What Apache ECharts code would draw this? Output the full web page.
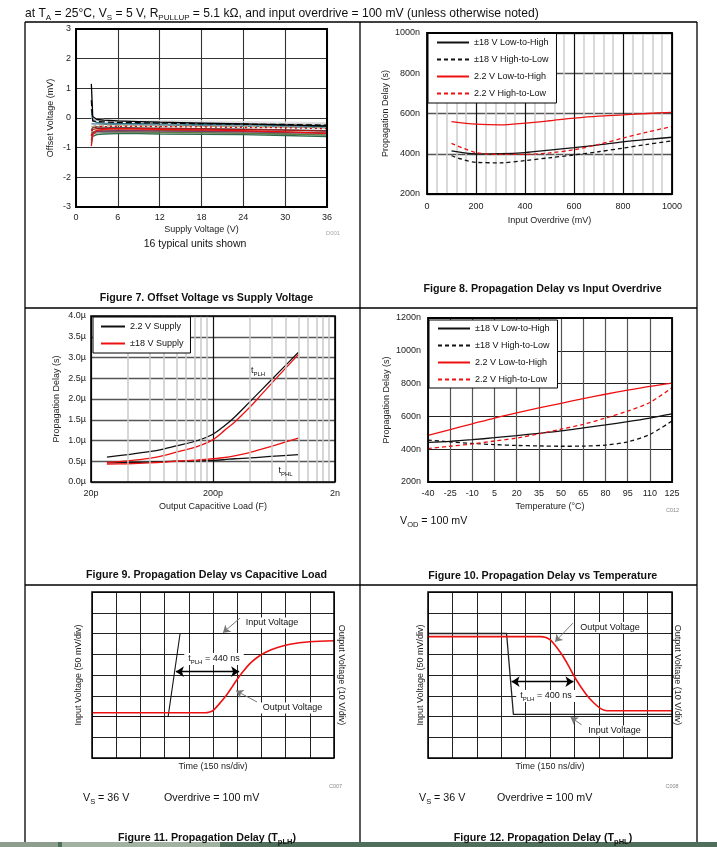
<!DOCTYPE html>
<html><head><meta charset="utf-8">
<script src="https://cdn.jsdelivr.net/npm/echarts/dist/echarts.min.js"></script>
<style>html,body{margin:0;padding:0;background:#fff}#c{width:717px;height:847px}</style>
</head><body><div id="c"></div>
<script>
const FF = '"Liberation Sans", Arial, Helvetica, sans-serif';

// ---------- Figure 7: offset voltage vs supply voltage (16 units) ----------
const supplyV = [2.2, 2.4, 3, 4, 6, 9, 12, 18, 24, 30, 36];
const unit01 = [1.15, 0.05, -0.05, -0.07, -0.1, -0.12, -0.14, -0.17, -0.2, -0.23, -0.27];
const unit02 = [-0.95, -0.55, -0.42, -0.38, -0.36, -0.37, -0.38, -0.4, -0.43, -0.47, -0.52];
const unit03 = [-0.6, -0.35, -0.3, -0.29, -0.28, -0.28, -0.29, -0.3, -0.32, -0.33, -0.36];
const unit04 = [-0.85, -0.62, -0.56, -0.54, -0.53, -0.53, -0.54, -0.55, -0.56, -0.59, -0.63];
const unit05 = [0.3, -0.1, -0.15, -0.17, -0.18, -0.19, -0.2, -0.21, -0.23, -0.26, -0.29];
const unit06 = [-0.7, -0.55, -0.5, -0.49, -0.48, -0.48, -0.49, -0.5, -0.52, -0.54, -0.57];
const unit07 = [0.1, -0.04, -0.07, -0.09, -0.11, -0.12, -0.13, -0.15, -0.17, -0.19, -0.21];
const unit08 = [-0.75, -0.5, -0.45, -0.44, -0.43, -0.43, -0.44, -0.45, -0.47, -0.49, -0.52];
const unit09 = [-0.3, -0.25, -0.24, -0.24, -0.25, -0.26, -0.27, -0.28, -0.29, -0.3, -0.32];
const unit10 = [0.6, -0.1, -0.12, -0.13, -0.15, -0.16, -0.17, -0.19, -0.21, -0.22, -0.24];
const unit11 = [-0.4, -0.32, -0.3, -0.31, -0.32, -0.33, -0.34, -0.36, -0.38, -0.4, -0.43];
const unit12 = [-0.2, -0.2, -0.2, -0.21, -0.22, -0.23, -0.24, -0.26, -0.28, -0.3, -0.33];
const unit13 = [-0.5, -0.45, -0.42, -0.41, -0.4, -0.41, -0.42, -0.43, -0.45, -0.47, -0.5];
const unit14 = [-0.55, -0.48, -0.46, -0.46, -0.46, -0.47, -0.48, -0.49, -0.51, -0.54, -0.58];
const unit15 = [-0.45, -0.38, -0.36, -0.35, -0.35, -0.35, -0.36, -0.37, -0.39, -0.41, -0.44];
const unit16 = [0.0, -0.02, -0.04, -0.05, -0.06, -0.07, -0.08, -0.1, -0.12, -0.14, -0.16];
const fig7Units = [unit16, unit07, unit06, unit12, unit13, unit14, unit11, unit09, unit05, unit08, unit15, unit04, unit03, unit10, unit01, unit02];
const fig7Colors = ['#e4e4e4', '#c8c8c8', '#8a8a8a', '#4f7fa0', '#8b5a2b', '#5f7f3f', '#4a5a5a', '#b9a875', '#2f7080', '#7b3a6a', '#a01818', '#2f6b4a', '#e00000', '#000000', '#000000', '#ee1111'];
const fig7Dash = ['solid', 'solid', 'solid', 'solid', 'solid', 'solid', 'solid', [5, 3], 'solid', 'solid', 'solid', 'solid', [2, 3], [6, 3], 'solid', 'solid'];

// ---------- Figure 8: propagation delay vs input overdrive (ns) ----------
const overdriveMv = [100, 200, 300, 400, 500, 600, 700, 800, 900, 1000];
const od18LH = [414, 399, 400, 406, 418, 430, 444, 459, 471, 482];
const od18HL = [390, 357, 355, 366, 380, 394, 410, 428, 447, 464];
const od22LH = [560, 547, 543, 552, 564, 577, 587, 593, 600, 606];
const od22HL = [452, 406, 397, 397, 404, 420, 446, 478, 508, 535];

// ---------- Figure 9: propagation delay vs capacitive load (us) ----------
const loadPf = [27, 40, 60, 80, 100, 150, 200, 250, 300, 400, 500, 700, 1000];
const load22PLH = [0.60, 0.66, 0.73, 0.80, 0.87, 1.0, 1.15, 1.36, 1.56, 1.93, 2.22, 2.66, 3.12];
const load18PLH = [0.47, 0.51, 0.57, 0.64, 0.72, 0.86, 1.02, 1.25, 1.44, 1.80, 2.11, 2.58, 3.07];
const load18PHL = [0.43, 0.44, 0.46, 0.48, 0.50, 0.53, 0.56, 0.59, 0.63, 0.71, 0.79, 0.92, 1.06];
const load22PHL = [0.46, 0.47, 0.48, 0.49, 0.50, 0.51, 0.52, 0.54, 0.56, 0.58, 0.60, 0.63, 0.66];
const loadMinorPf = [40, 60, 80, 100, 120, 140, 160, 180, 400, 600, 800, 1000, 1200, 1400, 1600, 1800];
const loadTickPf = [20, 200, 2000];

// ---------- Figure 10: propagation delay vs temperature (ns) ----------
const tempC = [-40, -25, -10, 5, 20, 35, 50, 65, 80, 95, 110, 125];
const t18LH = [442, 448, 458, 470, 483, 497, 512, 530, 548, 568, 590, 615];
const t18HL = [455, 445, 435, 428, 423, 420, 418, 419, 425, 445, 490, 572];
const t22LH = [485, 520, 555, 590, 622, 652, 680, 708, 735, 760, 783, 803];
const t22HL = [404, 418, 432, 450, 468, 494, 522, 552, 590, 632, 685, 775];

// ---------- Figure 11: tPLH scope capture ----------
const plhInNs = [0, 472, 546, 1500];
const plhInMv = [-100, -100, 100, 100];
const plhOutNs = [0, 700, 730, 752, 790, 834, 870, 897, 940, 980, 1030, 1083, 1150, 1227, 1350, 1500];
const plhOutV = [1.8, 1.8, 2.2, 3.0, 6.2, 10.4, 14.4, 17.6, 22, 25.6, 28.8, 31.2, 33.2, 34.8, 36, 36.5];

// ---------- Figure 12: tPHL scope capture ----------
const phlInNs = [0, 483, 525, 1500];
const phlInMv = [100, 100, -95, -95];
const phlOutNs = [0, 690, 720, 750, 771, 800, 832, 860, 894, 930, 975, 1020, 1057, 1080, 1100, 1500];
const phlOutV = [38.5, 38.5, 38.2, 37, 35.3, 32.4, 28.8, 25, 20, 15.4, 10.4, 6.5, 4, 3.1, 2.8, 2.8];

const zip = (a, b) => a.map((x, i) => [x, b[i]]);
const logX = pf => Math.log10(pf / 20);

function lab(extra) { return Object.assign({fontSize: 9, color: '#222', fontFamily: FF}, extra || {}); }
function axisBase(o) {
  return Object.assign({
    type: 'value', axisLine: {show: false}, axisTick: {show: false},
    nameLocation: 'middle', nameMoveOverlap: false,
    nameTextStyle: {fontSize: 9, color: '#222', fontFamily: FF}
  }, o);
}
const sl = (c, w) => ({show: true, lineStyle: {color: c, width: w, type: 'solid'}});
const noLab = {show: false};
const plain = v => String(v);

const xAxis = [
  axisBase({gridIndex: 0, min: 0, max: 36, interval: 6, axisLabel: lab({margin: 6, formatter: plain}), splitLine: sl('#333', 1.1), name: 'Supply Voltage (V)', nameGap: 18}),
  axisBase({gridIndex: 1, min: 0, max: 1000, interval: 200, axisLabel: lab({margin: 8, formatter: plain}), splitLine: sl('#111', 1.2),
    minorTick: {show: true, splitNumber: 5, length: 0, lineStyle: {color: 'transparent'}},
    minorSplitLine: {show: true, lineStyle: {color: '#cdcdcd', width: 1.5}},
    name: 'Input Overdrive (mV)', nameGap: 22}),
  axisBase({gridIndex: 2, min: 0, max: 2, interval: 1,
    axisLabel: lab({margin: 7, formatter: v => { const pf = loadTickPf[Math.round(v)]; return pf >= 1000 ? (pf / 1000) + 'n' : pf + 'p'; }}),
    splitLine: sl('#111', 1.2), name: 'Output Capacitive Load (F)', nameGap: 20}),
  axisBase({gridIndex: 3, min: 0, max: 165, interval: 15, axisLabel: lab({margin: 7, formatter: v => String(v - 40)}),
    splitLine: sl('#555', 1.2), name: 'Temperature (°C)', nameGap: 20}),
  axisBase({gridIndex: 4, min: 0, max: 1500, interval: 150, axisLabel: noLab, splitLine: sl('#222', 1), name: 'Time (150 ns/div)', nameGap: 4}),
  axisBase({gridIndex: 5, min: 0, max: 1500, interval: 150, axisLabel: noLab, splitLine: sl('#222', 1), name: 'Time (150 ns/div)', nameGap: 4})
];
const yAxis = [
  axisBase({gridIndex: 0, min: -3, max: 3, interval: 1, axisLabel: lab({margin: 5, formatter: plain}), splitLine: sl('#333', 1.1), name: 'Offset Voltage (mV)', nameGap: 21}),
  axisBase({gridIndex: 1, min: 200, max: 1000, interval: 200, axisLabel: lab({margin: 7, formatter: v => v + 'n'}), splitLine: sl('#555', 1.3), name: 'Propagation Delay (s)', nameGap: 37}),
  axisBase({gridIndex: 2, min: 0, max: 4, interval: 0.5, axisLabel: lab({margin: 5, formatter: v => v.toFixed(1) + 'µ'}), splitLine: sl('#555', 1.3), name: 'Propagation Delay (s)', nameGap: 30}),
  axisBase({gridIndex: 3, min: 200, max: 1200, interval: 200, axisLabel: lab({margin: 7, formatter: v => v + 'n'}), splitLine: sl('#222', 1.2), name: 'Propagation Delay (s)', nameGap: 37}),
  axisBase({gridIndex: 4, min: -200, max: 200, interval: 50, axisLabel: noLab, splitLine: sl('#222', 1), name: 'Input Voltage (50 mV/div)', nameGap: 9}),
  axisBase({gridIndex: 4, position: 'right', min: -20, max: 60, axisLabel: noLab, splitLine: {show: false}, name: 'Output Voltage (10 V/div)', nameGap: 3, nameRotate: -90}),
  axisBase({gridIndex: 5, min: -200, max: 200, interval: 50, axisLabel: noLab, splitLine: sl('#222', 1), name: 'Input Voltage (50 mV/div)', nameGap: 3}),
  axisBase({gridIndex: 5, position: 'right', min: -20, max: 60, axisLabel: noLab, splitLine: {show: false}, name: 'Output Voltage (10 V/div)', nameGap: 1, nameRotate: -90})
];

const grids = [
  {left: 76, top: 29, width: 251, height: 178},
  {left: 427, top: 33, width: 245, height: 161},
  {left: 91, top: 316, width: 244, height: 166},
  {left: 428, top: 318, width: 244, height: 164},
  {left: 92, top: 592, width: 242, height: 166},
  {left: 428, top: 592, width: 244, height: 166}
].map(g => Object.assign({containLabel: false, outerBoundsMode: 'none', show: false}, g));

const RED = '#ee1111';
function ln(name, xi, yi, data, color, type, width, extra) {
  return Object.assign({name, type: 'line', xAxisIndex: xi, yAxisIndex: yi, data, symbol: 'none', showSymbol: false,
    lineStyle: {color, width: width || 1.3, type: type || 'solid'}, itemStyle: {color}, z: 3, animation: false, silent: true}, extra || {});
}

const series = [];
fig7Units.forEach((u, i) => series.push(ln('Unit ' + (i + 1), 0, 0, zip(supplyV, u), fig7Colors[i], fig7Dash[i], 1.3)));

const D = [4, 3];
series.push(ln('±18 V Low-to-High', 1, 1, zip(overdriveMv, od18LH), '#111', 'solid', 1.3, {smooth: 0.3}));
series.push(ln('±18 V High-to-Low', 1, 1, zip(overdriveMv, od18HL), '#111', D, 1.3, {smooth: 0.3}));
series.push(ln('2.2 V Low-to-High', 1, 1, zip(overdriveMv, od22LH), RED, 'solid', 1.3, {smooth: 0.3}));
series.push(ln('2.2 V High-to-Low', 1, 1, zip(overdriveMv, od22HL), RED, D, 1.3, {smooth: 0.3}));

series.push({type: 'line', xAxisIndex: 2, yAxisIndex: 2, data: [], z: 1, silent: true, animation: false,
  markLine: {silent: true, animation: false, symbol: ['none', 'none'], label: {show: false},
    lineStyle: {color: '#c8c8c8', width: 1.5, type: 'solid'}, data: loadMinorPf.map(p => ({xAxis: logX(p)}))}});
const lx = loadPf.map(logX);
series.push(ln('2.2 V Supply', 2, 2, zip(lx, load22PLH), '#111', 'solid', 1.3, {smooth: 0.3}));
series.push(ln('2.2 V Supply', 2, 2, zip(lx, load22PHL), '#111', 'solid', 1.3, {smooth: 0.3}));
series.push(ln('±18 V Supply', 2, 2, zip(lx, load18PLH), RED, 'solid', 1.3, {smooth: 0.3}));
series.push(ln('±18 V Supply', 2, 2, zip(lx, load18PHL), RED, 'solid', 1.3, {smooth: 0.3}));

const tx = tempC.map(t => t + 40);
series.push(ln('±18 V Low-to-High', 3, 3, zip(tx, t18LH), '#111', 'solid', 1.3, {smooth: 0.3}));
series.push(ln('±18 V High-to-Low', 3, 3, zip(tx, t18HL), '#111', D, 1.3, {smooth: 0.3}));
series.push(ln('2.2 V Low-to-High', 3, 3, zip(tx, t22LH), RED, 'solid', 1.3, {smooth: 0.3}));
series.push(ln('2.2 V High-to-Low', 3, 3, zip(tx, t22HL), RED, D, 1.3, {smooth: 0.3}));

function scopeMarks(arrow, leaders) {
  const data = [[{coord: arrow[0], symbol: 'arrow'}, {coord: arrow[1], symbol: 'arrow'}]];
  leaders.forEach(l => data.push([{coord: l[0], symbol: 'none', lineStyle: {color: '#777', width: 1}}, {coord: l[1], symbol: 'arrow', symbolSize: 7, lineStyle: {color: '#777', width: 1}}]));
  return {silent: true, animation: false, symbolSize: 8, label: {show: false}, lineStyle: {color: '#000', width: 1.3, type: 'solid'}, data};
}
series.push(ln('Input Voltage', 4, 4, zip(plhInNs, plhInMv), '#111', 'solid', 1.1, {
  markLine: scopeMarks([[520, 8], [912, 8]], [[[917, 137], [812, 102]], [[1023, -65], [893, -38]]])}));
series.push(ln('Output Voltage', 4, 5, zip(plhOutNs, plhOutV), RED, 'solid', 1.6, {smooth: 0.3}));
series.push(ln('Input Voltage', 5, 6, zip(phlInNs, phlInMv), '#222', 'solid', 1.3, {
  markLine: scopeMarks([[514, -16], [894, -16]], [[[891, 125], [781, 80]], [[945, -120], [877, -102]]])}));
series.push(ln('Output Voltage', 5, 7, zip(phlOutNs, phlOutV), RED, 'solid', 1.6, {smooth: 0.3}));

function legendBox(left, top, names, itemWidth, pad, gap) {
  return {show: true, left, top, orient: 'vertical', data: names, selectedMode: false,
    backgroundColor: '#fff', borderColor: '#000', borderWidth: 1, borderRadius: 0, padding: pad,
    itemWidth, itemHeight: 10, itemGap: gap, textStyle: {fontSize: 9, color: '#111', fontFamily: FF},
    itemStyle: {color: 'transparent', borderColor: 'transparent', borderWidth: 0, opacity: 0}, z: 20};
}
const delayNames = ['±18 V Low-to-High', '±18 V High-to-Low', '2.2 V Low-to-High', '2.2 V High-to-Low'];
const legend = [
  legendBox(428, 33, delayNames, 32, [5, 8, 5, 8], 8),
  legendBox(93, 317, ['2.2 V Supply', '±18 V Supply'], 24, [5, 7, 5, 7], 8),
  legendBox(429, 320, delayNames, 32, [4, 8, 4, 8], 8)
];

function T(x, y, text, size, o) {
  o = o || {};
  const ha = o.ha || 'left';
  const st = {x, y, text, fill: o.fill || '#111', fontFamily: FF, fontSize: size, fontWeight: o.bold ? 'bold' : 'normal',
    textAlign: ha, align: ha, textVerticalAlign: 'middle', verticalAlign: 'middle'};
  if (o.lh) st.lineHeight = o.lh;
  if (o.sub) st.rich = {s: {fontSize: o.sub, lineHeight: o.sub, verticalAlign: 'bottom', fontFamily: FF, fontWeight: o.bold ? 'bold' : 'normal', fill: o.fill || '#111'}};
  if (o.bg) { st.backgroundColor = o.bg; st.padding = o.pad || [2, 3]; }
  return {type: 'text', z: 100, silent: true, style: st};
}
function L(x1, y1, x2, y2, w) {
  return {type: 'line', z: 90, silent: true, shape: {x1, y1, x2, y2}, style: {stroke: '#000', lineWidth: w || 1.3}};
}
function frame(g, w) {
  return {type: 'rect', z: 60, silent: true, shape: {x: g.left, y: g.top, width: g.width, height: g.height}, style: {fill: 'none', stroke: '#000', lineWidth: w}};
}
function R(x, y, w, h, fill) { return {type: 'rect', z: 95, silent: true, shape: {x, y, width: w, height: h}, style: {fill}}; }

const graphic = [
  L(25, 22, 697, 22), L(25, 308, 697, 308), L(25, 585, 697, 585),
  L(25, 22, 25, 842), L(360, 22, 360, 842), L(697, 22, 697, 842),
  frame(grids[0], 2), frame(grids[1], 1.8), frame(grids[2], 1.6), frame(grids[3], 1.8), frame(grids[4], 1.5), frame(grids[5], 1.5),
  T(25, 14, 'at T{s|A} = 25°C, V{s|S} = 5 V, R{s|PULLUP} = 5.1 kΩ, and input overdrive = 100 mV (unless otherwise noted)', 12.1, {lh: 15, sub: 8}),
  T(195, 244, '16 typical units shown', 10.5, {ha: 'center'}),
  T(333, 233, 'D001', 6, {ha: 'center', fill: '#aaa'}),
  T(206.5, 298, 'Figure 7. Offset Voltage vs Supply Voltage', 10.7, {ha: 'center', bold: true}),
  T(542.5, 289, 'Figure 8. Propagation Delay vs Input Overdrive', 10.7, {ha: 'center', bold: true}),
  T(258, 371, 't{s|PLH}', 9, {ha: 'center', lh: 12, sub: 6}),
  T(285.5, 471, 't{s|PHL}', 9, {ha: 'center', lh: 12, sub: 6}),
  T(206.5, 575, 'Figure 9. Propagation Delay vs Capacitive Load', 10.7, {ha: 'center', bold: true}),
  T(672.5, 510, 'C012', 5.5, {ha: 'center', fill: '#888'}),
  T(400, 521, 'V{s|OD} = 100 mV', 10.7, {lh: 15, sub: 7.5}),
  T(542.7, 576, 'Figure 10. Propagation Delay vs Temperature', 10.7, {ha: 'center', bold: true}),
  T(272, 623, 'Input Voltage', 9, {ha: 'center', bg: '#fff', pad: [1, 4]}),
  T(292.5, 708, 'Output Voltage', 9, {ha: 'center', bg: '#fff', pad: [1, 4]}),
  T(214, 659, 't{s|PLH} = 440 ns', 9, {ha: 'center', lh: 12, sub: 6, bg: '#fff', pad: [0, 4]}),
  T(335.5, 786, 'C007', 5.5, {ha: 'center', fill: '#888'}),
  T(83, 798, 'V{s|S} = 36 V', 10.7, {lh: 15, sub: 7.5}),
  T(164, 798, 'Overdrive = 100 mV', 10.7),
  T(207, 838, 'Figure 11. Propagation Delay (T{s|pLH})', 10.7, {ha: 'center', bold: true, lh: 15, sub: 7.5}),
  T(610, 627.5, 'Output Voltage', 9, {ha: 'center', bg: '#fff', pad: [1, 4]}),
  T(614.5, 731, 'Input Voltage', 9, {ha: 'center', bg: '#fff', pad: [1, 4]}),
  T(546, 696, 't{s|PLH} = 400 ns', 9, {ha: 'center', lh: 12, sub: 6, bg: '#fff', pad: [0, 4]}),
  T(672, 786, 'C008', 5.5, {ha: 'center', fill: '#888'}),
  T(419, 798, 'V{s|S} = 36 V', 10.7, {lh: 15, sub: 7.5}),
  T(497, 798, 'Overdrive = 100 mV', 10.7),
  T(543, 838, 'Figure 12. Propagation Delay (T{s|pHL})', 10.7, {ha: 'center', bold: true, lh: 15, sub: 7.5}),
  R(0, 842, 717, 5, '#4f6e5b'), R(0, 842, 58, 5, '#8e9e8e'), R(62, 842, 158, 5, '#a2b2a2')
];

const chart = echarts.init(document.getElementById('c'), null, {renderer: 'canvas'});
chart.setOption({
  animation: false,
  backgroundColor: '#fff',
  textStyle: {fontFamily: FF},
  grid: grids, xAxis, yAxis, series, legend, graphic
});
</script></body></html>
